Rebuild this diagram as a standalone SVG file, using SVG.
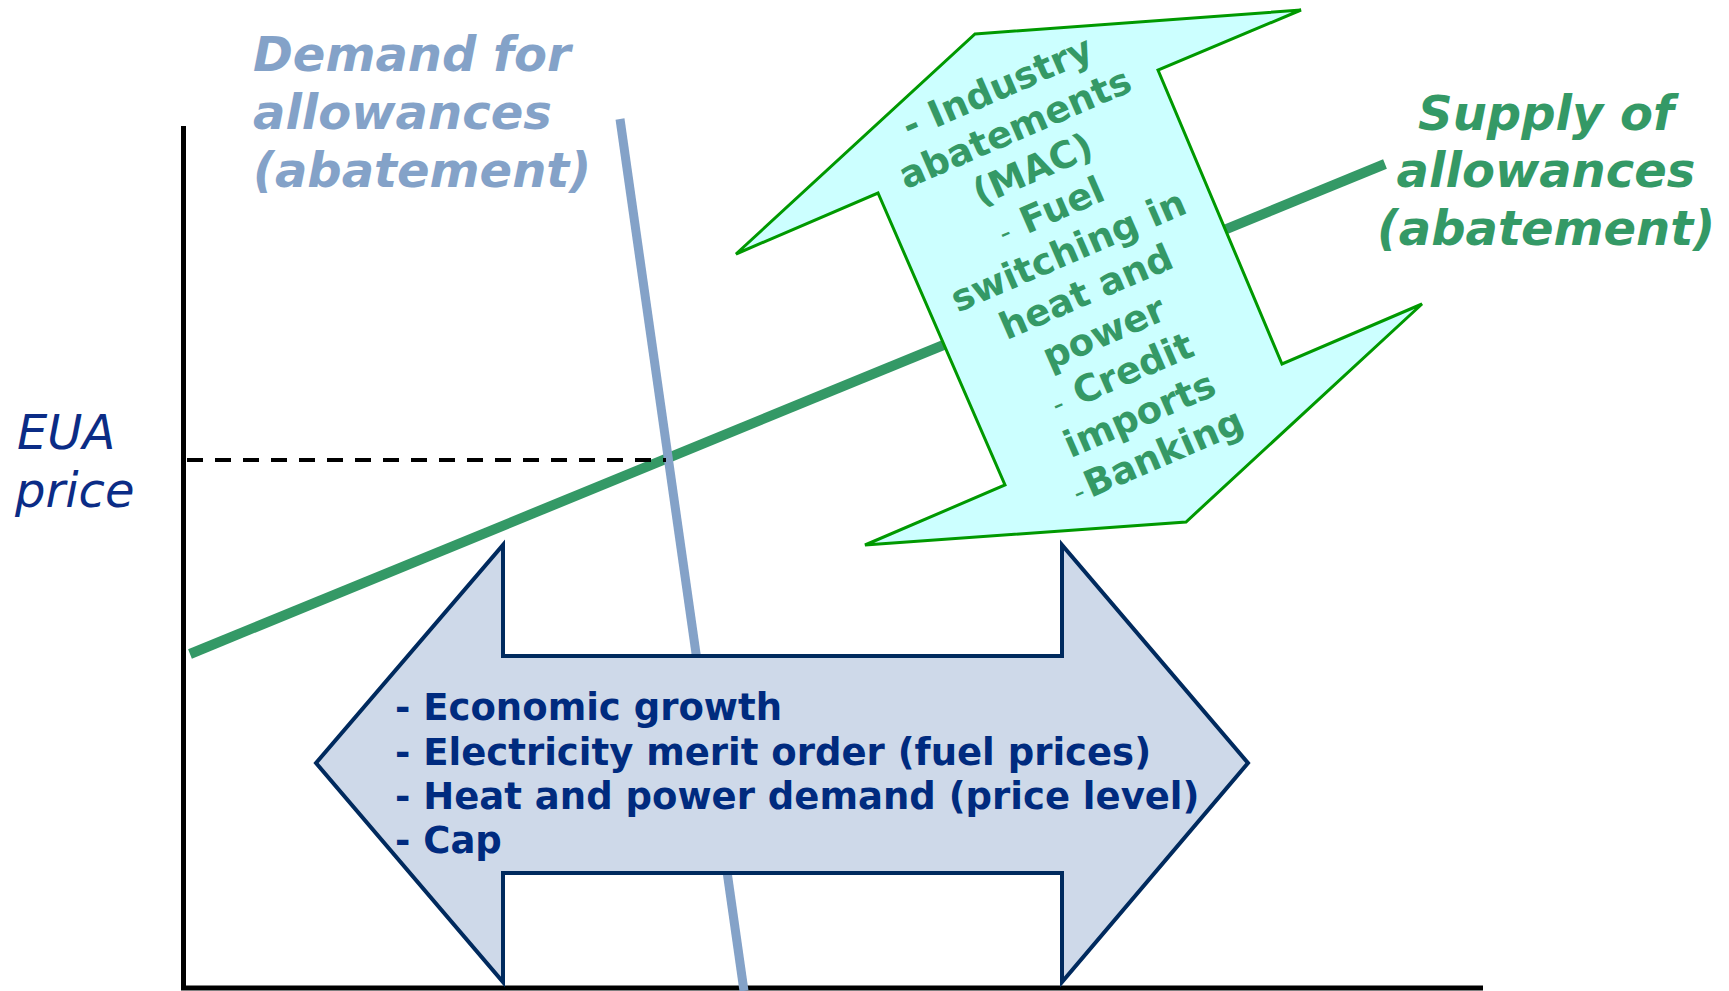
<svg xmlns="http://www.w3.org/2000/svg" width="1729" height="991" viewBox="0 0 1729 991">
  <style>
    .lbl { font-family: "DejaVu Sans", Verdana, sans-serif; }
    .curve-lbl { font-size: 48px; font-weight: bold; font-style: italic; }
    .axis-lbl { font-size: 48px; font-style: italic; fill: #0b2c86; }
    .drv { font-size: 37px; font-weight: bold; }
    .dash-sm { font-size: 30px; font-weight: normal; }
  </style>
  <rect width="1729" height="991" fill="#ffffff"/>

  <!-- axes, supply/demand curves and the equilibrium price line -->
  <g id="connectors" fill="none">
    <polyline points="183.5,126 183.5,988 1483,988" stroke="#000000" stroke-width="5"/>
    <line id="supply-curve" x1="190" y1="654" x2="1385" y2="164" stroke="#349966" stroke-width="10"/>
    <line id="demand-curve" x1="620" y1="119" x2="744" y2="991" stroke="#84a2c8" stroke-width="9"/>
    <line id="price-level" x1="187" y1="460" x2="666" y2="460" stroke="#000000" stroke-width="4" stroke-dasharray="16 12"/>
  </g>

  <!-- supply-side drivers: tilted up/down arrow -->
  <g id="supply-drivers">
    <polygon points="975,34 1301,10 1158,70 1282,364 1422,304 1186,522 865,545 1005,485 878,193 736,254" fill="#ccffff" stroke="#009900" stroke-width="3" stroke-linejoin="miter"/>
    <g class="lbl drv" fill="#349966" text-anchor="middle" transform="translate(997,87) rotate(-23.5)">
      <text x="0" y="13">- Industry</text>
      <text x="0" y="57.6">abatements</text>
      <text x="0" y="102.2">(MAC)</text>
      <text x="0" y="146.8"><tspan class="dash-sm">-</tspan><tspan dx="14">Fuel</tspan></text>
      <text x="0" y="191.4">switching in</text>
      <text x="0" y="236">heat and</text>
      <text x="0" y="280.6">power</text>
      <text x="0" y="325.2"><tspan class="dash-sm">-</tspan><tspan dx="14">Credit</tspan></text>
      <text x="0" y="369.8">imports</text>
      <text x="0" y="414.4"><tspan class="dash-sm">-</tspan><tspan dx="3">Banking</tspan></text>
    </g>
  </g>

  <!-- demand-side drivers: horizontal double arrow -->
  <g id="demand-drivers">
    <polygon points="316,763 503,545 503,656 1062,656 1062,545 1248,763 1062,982 1062,873 503,873 503,982" fill="#ced9e9" stroke="#002a5e" stroke-width="4"/>
    <g class="lbl drv" fill="#002b7f">
      <text x="395" y="720">- Economic growth</text>
      <text x="395" y="765">- Electricity merit order (fuel prices)</text>
      <text x="395" y="809">- Heat and power demand (price level)</text>
      <text x="395" y="853">- Cap</text>
    </g>
  </g>

  <g id="demand-label" class="lbl curve-lbl" fill="#84a2c8">
    <text x="253" y="71">Demand for</text>
    <text x="253" y="129">allowances</text>
    <text x="253" y="187">(abatement)</text>
  </g>

  <g id="supply-label" class="lbl curve-lbl" fill="#349966" text-anchor="middle">
    <text x="1546" y="130">Supply of</text>
    <text x="1546" y="187">allowances</text>
    <text x="1546" y="245">(abatement)</text>
  </g>

  <g id="price-label" class="lbl axis-lbl">
    <text x="17" y="449">EUA</text>
    <text x="15" y="507">price</text>
  </g>
</svg>
